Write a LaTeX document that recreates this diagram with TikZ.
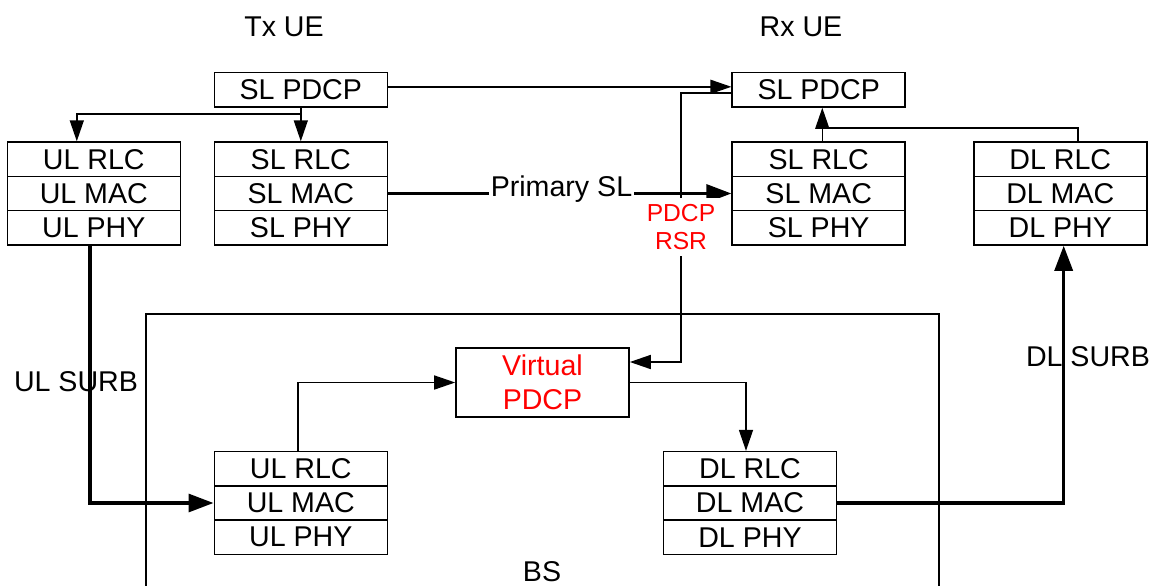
\documentclass[tikz,border=0pt]{standalone}
\usepackage{fontspec}
\setmainfont{Liberation Sans}
\usetikzlibrary{arrows.meta,calc}
\begin{document}
\begin{tikzpicture}[x=0.5pt,y=-0.5pt,
  thinln/.style={line width=0.8pt},
  thickln/.style={line width=1.6pt},
  layer/.style={draw, thinln, minimum width=86.5pt, minimum height=17.15pt, inner sep=0pt, font=\fontsize{14.3}{16}\selectfont},
  tarr/.style={thinln, -{Triangle[length=10.5pt,width=7pt]}},
  karr/.style={thickln, -{Triangle[length=12.5pt,width=9pt]}},
  lbl/.style={font=\fontsize{14.3}{16}\selectfont, inner sep=0pt},
  redlbl/.style={text=red, align=center}
]
\useasboundingbox (0,0) rectangle (1153,585);

% titles
\node[lbl] (txue) at (284,27) {Tx UE};
\node[lbl] (rxue) at (801,27) {Rx UE};

% PDCP boxes
\node[layer] (txpdcp) at (300.8,89.8) {SL PDCP};
\node[layer] (rxpdcp) at (818.7,89.8) {SL PDCP};

% Tx UE stacks
\node[layer] (ulrlc) at (93.8,159.2) {UL RLC};
\node[layer] (ulmac) at (93.8,193.5) {UL MAC};
\node[layer] (ulphy) at (93.8,227.8) {UL PHY};
\node[layer] (slrlc) at (300.8,159.2) {SL RLC};
\node[layer] (slmac) at (300.8,193.5) {SL MAC};
\node[layer] (slphy) at (300.8,227.8) {SL PHY};

% Rx UE stacks
\node[layer] (rxslrlc) at (818.7,159.2) {SL RLC};
\node[layer] (rxslmac) at (818.7,193.5) {SL MAC};
\node[layer] (rxslphy) at (818.7,227.8) {SL PHY};
\node[layer] (dlrlc) at (1060.3,159.2) {DL RLC};
\node[layer] (dlmac) at (1060.3,193.5) {DL MAC};
\node[layer] (dlphy) at (1060.3,227.8) {DL PHY};

% BS
\draw[thinln] (146,600) -- (146,314) -- (939,314) -- (939,600);
\node[lbl] (bs) at (542,572) {BS};
\node[draw, thinln, minimum width=86.5pt, minimum height=34.5pt, inner sep=0pt,
      redlbl, font=\fontsize{14.3}{17}\selectfont] (virt) at (542.5,382.5) {Virtual\\PDCP};
\node[layer] (ulrlcbs) at (300.8,468.8) {UL RLC};
\node[layer] (ulmacbs) at (300.8,503) {UL MAC};
\node[layer] (ulphybs) at (300.8,537.2) {UL PHY};
\node[layer] (dlrlcbs) at (750,468.8) {DL RLC};
\node[layer] (dlmacbs) at (750,503) {DL MAC};
\node[layer] (dlphybs) at (750,537.2) {DL PHY};

% Tx PDCP to RLCs
\draw[tarr] (txpdcp.south) -- (slrlc.north);
\draw[tarr] (txpdcp.south |- 0,114) -| ([xshift=-8.5pt]ulrlc.north);

% Tx PDCP to Rx PDCP
\draw[tarr] ([yshift=1.5pt]txpdcp.east) -- ([yshift=1.5pt]rxpdcp.west);

% Primary SL
\draw[karr] (slmac.east) -- (rxslmac.west);
\node[lbl, fill=white, inner xsep=1pt, inner ysep=2pt] (prim) at (561.5,189) {Primary SL};

% PDCP RSR
\node[redlbl, fill=white, inner sep=3pt, font=\fontsize{12.3}{14.2}\selectfont] (rsr) at (681,227) {PDCP\\RSR};
\draw[thinln] ([yshift=-1.45pt]rxpdcp.west) -| (rsr.north);
\draw[tarr] (rsr.south) |- ([yshift=10.25pt]virt.east);

% DL RLC (Rx) and SL RLC (Rx) up to Rx PDCP
\coordinate (jx) at ([xshift=1.8pt]rxslrlc.north);
\coordinate (jt) at ([xshift=1.8pt]rxpdcp.south);
\draw[thinln] (jx) -- (jx |- 0,127.7);
\draw[tarr] ([xshift=8.7pt]dlrlc.north) |- (jx |- 0,127.7) -- (jt);

% UL SURB
\draw[karr] ([xshift=-1.9pt]ulphy.south) |- (ulmacbs.west);
\node[lbl] (ulsurb) at (76,382) {UL SURB};

% DL SURB
\draw[karr] (dlmacbs.east) -| ([xshift=1.7pt]dlphy.south);
\node[lbl] (dlsurb) at (1088,357) {DL SURB};

% Virtual PDCP in/out
\draw[tarr] ([xshift=-1.5pt]ulrlcbs.north) |- (virt.west);
\draw[tarr] (virt.east) -| ([xshift=-2pt]dlrlcbs.north);
\end{tikzpicture}
\end{document}
